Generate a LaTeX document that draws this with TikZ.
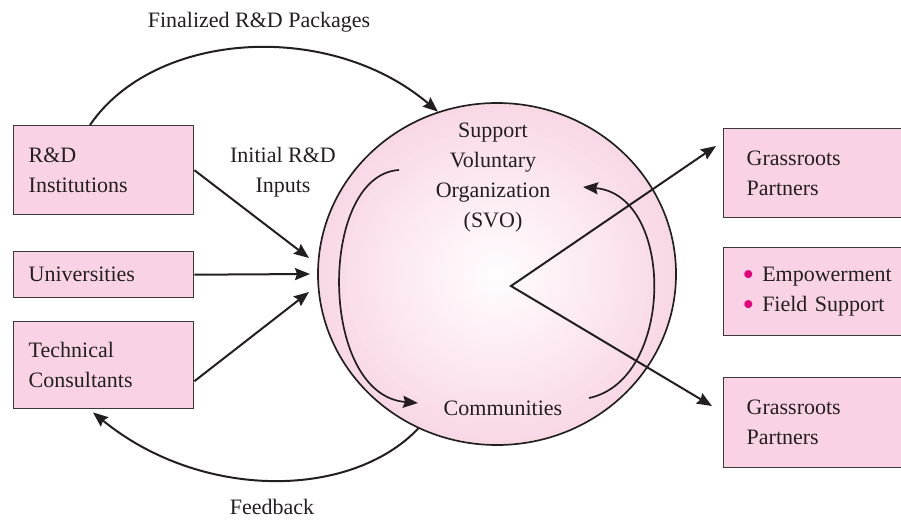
\documentclass[tikz,border=0pt]{standalone}
\usepackage{fontspec}
\setmainfont{Liberation Serif}
\usetikzlibrary{arrows.meta,shapes.geometric}
\definecolor{ink}{HTML}{231F20}
\definecolor{boxpink}{HTML}{F9D3E5}
\definecolor{rimpink}{HTML}{F9D8E6}
\definecolor{corepink}{HTML}{FFFDFE}
\definecolor{bulletmag}{HTML}{E5007D}
\definecolor{boxline}{HTML}{3A3A3A}
\newcommand{\pinkdot}{{\color{bulletmag}\raisebox{-3.5pt}{\scalebox{1.5}{\textbullet}}}\hspace{8pt}}
\begin{document}
\begin{tikzpicture}[x=1pt,y=-1pt,
  txt/.style={font=\fontsize{22}{30}\selectfont, text=ink},
  arr/.style={draw=ink, line width=2pt, -{Stealth[length=15pt,width=12pt,inset=2pt]}},
  loop/.style={draw=ink, line width=1.7pt, -{Stealth[length=15pt,width=12pt,inset=2pt]}},
  box/.style={txt, draw=boxline, line width=1.4pt, fill=boxpink, anchor=north west,
    align=left, inner xsep=15pt, inner ysep=0pt}]
\path[use as bounding box, clip] (0,0) rectangle (901,519);

% soft pink disc, fading to white towards the middle
\foreach \k in {0,...,40}{
  \pgfmathsetmacro{\rx}{178*(1-\k/41)}
  \pgfmathsetmacro{\ry}{170*(1-\k/41)}
  \pgfmathtruncatemacro{\p}{\k*100/40}
  \fill[corepink!\p!rimpink] (497,274) ellipse [x radius=\rx pt, y radius=\ry pt];
}

% central organisation
\node[ellipse, draw=ink, line width=1.7pt, minimum width=358pt, minimum height=342pt,
  inner sep=0pt] (svo) at (497,274) {};
\node[txt, align=center] (svotext) at (493,178) {Support\\Voluntary\\Organization\\(SVO)};
\node[txt, anchor=base] (comm) at (503,415) {Communities};

% left-hand sources
\node[box, text width=150pt, minimum height=89pt] (rd) at (13,125) {R\&D\\Institutions};
\node[box, text width=150pt, minimum height=46pt] (uni) at (13,251) {Universities};
\node[box, text width=150pt, minimum height=87pt] (tech) at (13,321) {Technical\\Consultants};

% right-hand partners
\node[box, inner xsep=23pt, text width=170pt, minimum height=89pt] (gp1) at (723,128) {Grassroots\\Partners};
\node[box, inner xsep=19pt, text width=170pt, minimum height=88pt] (ef) at (723,247)
  {\pinkdot Empowerment\\\pinkdot Field Support};
\node[box, inner xsep=23pt, text width=170pt, minimum height=90pt] (gp2) at (723,377) {Grassroots\\Partners};

% labels
\node[txt, anchor=base] (finlabel) at (259,28) {Finalized R\&D Packages};
\node[txt, align=center] (initlabel) at (283,172) {Initial R\&D\\Inputs};
\node[txt, anchor=base] (fblabel) at (272,514) {Feedback};

% free ends of connectors
\coordinate (in1) at (309,258);
\coordinate (in2) at (310,274);
\coordinate (in3) at (309,292);
\coordinate (apex) at (511,286);
\coordinate (out1) at (716,146);
\coordinate (out2) at (712,406);
\coordinate (downs) at (399,170);
\coordinate (downe) at (418,403);
\coordinate (ups) at (589,398);
\coordinate (upe) at (583,187);

% flows
\draw[arr] ([xshift=77pt]rd.north west) .. controls (155,30) and (330,20) .. (svo.110);
\draw[arr] (svo.243) .. controls (350,500) and (200,500) .. ([xshift=80pt,yshift=-3pt]tech.south west);
\draw[arr] (rd.east) -- (in1);
\draw[arr] (uni.east) -- (in2);
\draw[arr] ([yshift=-16pt]tech.east) -- (in3);
\draw[draw=ink, line width=2pt, miter limit=20,
  {Stealth[length=15pt,width=12pt,inset=2pt]}-{Stealth[length=15pt,width=12pt,inset=2pt]}]
  (out1) -- (apex) -- (out2);
\draw[loop] (downs) .. controls (318,175) and (318,395) .. (downe);
\draw[loop] (ups) .. controls (675,380) and (675,195) .. (upe);
\end{tikzpicture}
\end{document}
